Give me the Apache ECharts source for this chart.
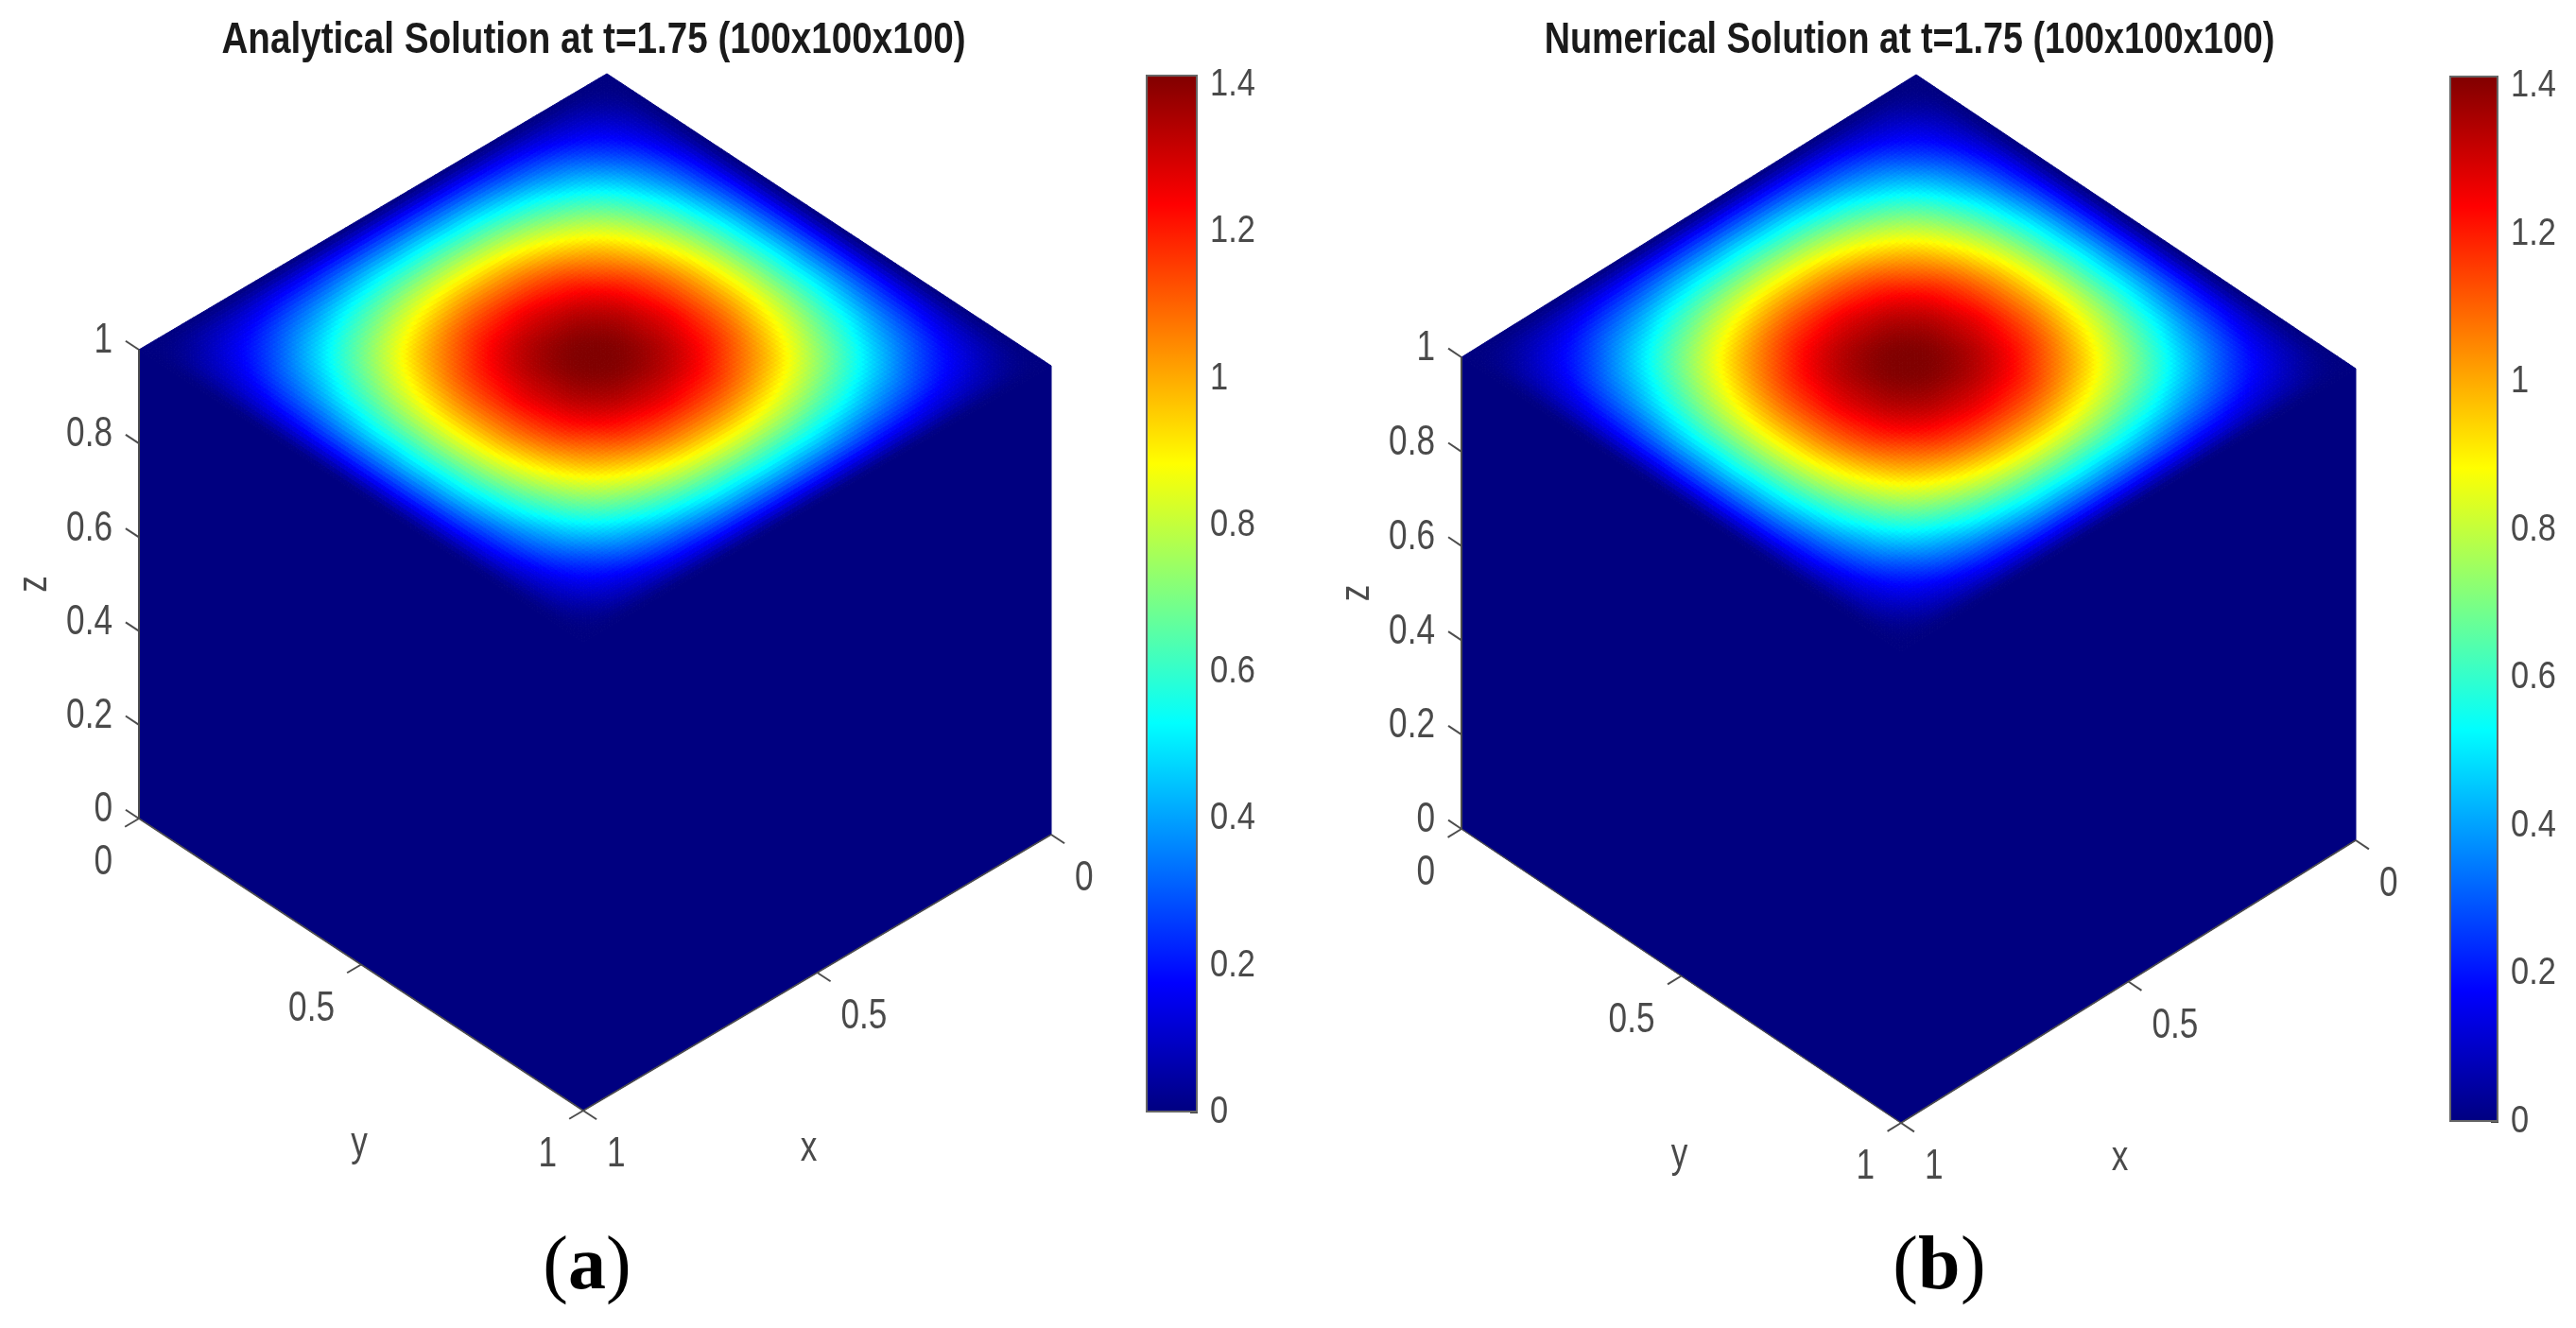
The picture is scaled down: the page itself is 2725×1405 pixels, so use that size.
<!DOCTYPE html>
<html><head><meta charset="utf-8">
<style>html,body{margin:0;padding:0;background:#fff}#c{width:2725px;height:1405px}</style>
<script src="https://cdn.jsdelivr.net/npm/echarts@6/dist/echarts.min.js"></script>
</head><body><div id="c"></div>
<script>
// ---- values ----
const panelTitles = ['Analytical Solution at t=1.75 (100x100x100)', 'Numerical Solution at t=1.75 (100x100x100)'];
const panelLetters = ['a', 'b'];
const zTicks = [0, 0.2, 0.4, 0.6, 0.8, 1];
const xyTicks = [0, 0.5, 1];
const colorTicks = [0, 0.2, 0.4, 0.6, 0.8, 1, 1.2, 1.4];
const colorMax = 1.414;
const sideValue = 0;
// top-face values at z=1, on 21x21 nodes
const analyticalTop = [
[0,0,0,0,0,0,0,0,0,0,0,0,0,0,0,0,0,0,0,0,0],
[0,.03,.07,.10,.13,.16,.18,.20,.21,.22,.22,.22,.21,.20,.18,.16,.13,.10,.07,.03,0],
[0,.07,.14,.20,.26,.31,.35,.39,.42,.43,.44,.43,.42,.39,.35,.31,.26,.20,.14,.07,0],
[0,.10,.20,.29,.38,.45,.52,.57,.61,.63,.64,.63,.61,.57,.52,.45,.38,.29,.20,.10,0],
[0,.13,.26,.38,.49,.59,.67,.74,.79,.82,.83,.82,.79,.74,.67,.59,.49,.38,.26,.13,0],
[0,.16,.31,.45,.59,.71,.81,.89,.95,.99,1.00,.99,.95,.89,.81,.71,.59,.45,.31,.16,0],
[0,.18,.35,.52,.67,.81,.93,1.02,1.09,1.13,1.14,1.13,1.09,1.02,.93,.81,.67,.52,.35,.18,0],
[0,.20,.39,.57,.74,.89,1.02,1.12,1.20,1.24,1.26,1.24,1.20,1.12,1.02,.89,.74,.57,.39,.20,0],
[0,.21,.42,.61,.79,.95,1.09,1.20,1.28,1.33,1.34,1.33,1.28,1.20,1.09,.95,.79,.61,.42,.21,0],
[0,.22,.43,.63,.82,.99,1.13,1.24,1.33,1.38,1.40,1.38,1.33,1.24,1.13,.99,.82,.63,.43,.22,0],
[0,.22,.44,.64,.83,1.00,1.14,1.26,1.34,1.40,1.414,1.40,1.34,1.26,1.14,1.00,.83,.64,.44,.22,0],
[0,.22,.43,.63,.82,.99,1.13,1.24,1.33,1.38,1.40,1.38,1.33,1.24,1.13,.99,.82,.63,.43,.22,0],
[0,.21,.42,.61,.79,.95,1.09,1.20,1.28,1.33,1.34,1.33,1.28,1.20,1.09,.95,.79,.61,.42,.21,0],
[0,.20,.39,.57,.74,.89,1.02,1.12,1.20,1.24,1.26,1.24,1.20,1.12,1.02,.89,.74,.57,.39,.20,0],
[0,.18,.35,.52,.67,.81,.93,1.02,1.09,1.13,1.14,1.13,1.09,1.02,.93,.81,.67,.52,.35,.18,0],
[0,.16,.31,.45,.59,.71,.81,.89,.95,.99,1.00,.99,.95,.89,.81,.71,.59,.45,.31,.16,0],
[0,.13,.26,.38,.49,.59,.67,.74,.79,.82,.83,.82,.79,.74,.67,.59,.49,.38,.26,.13,0],
[0,.10,.20,.29,.38,.45,.52,.57,.61,.63,.64,.63,.61,.57,.52,.45,.38,.29,.20,.10,0],
[0,.07,.14,.20,.26,.31,.35,.39,.42,.43,.44,.43,.42,.39,.35,.31,.26,.20,.14,.07,0],
[0,.03,.07,.10,.13,.16,.18,.20,.21,.22,.22,.22,.21,.20,.18,.16,.13,.10,.07,.03,0],
[0,0,0,0,0,0,0,0,0,0,0,0,0,0,0,0,0,0,0,0,0]
];
// the numerical panel reads the same as the analytical one
const numericalTop = analyticalTop;
const panelFields = [analyticalTop, numericalTop];

// ---- layout (view of the cube in page pixels) ----
const views = [
  {back:[642,78], ex:[-495,292], ey:[470,309], ez:[0,-496], bar:[1212,79,55,1098], titleX:628, titleS:.84, capX:601, capW:40, capY:1342},
  {back:[2027,79], ex:[-481,299], ey:[465,311], ez:[0,-499], bar:[2591,80,52,1107], titleX:2020, titleS:.82, capX:2029, capW:45, capY:1342}
];
const SUB = 6;
const FONT = "'Liberation Sans',sans-serif";
const SERIF = "'Liberation Serif',serif";
const TXT = '#4a4a4a', LINE = '#4d4d4d';
const NARROW = .8;

function clamp01(v){return Math.max(0,Math.min(1,v));}
function jet(value){
  const t = clamp01(value/colorMax);
  const c = k => Math.round(255*clamp01(1.5-Math.abs(4*t-k)));
  return 'rgb('+c(3)+','+c(2)+','+c(1)+')';
}
function box(v){
  const left = v.back[0]+v.ex[0], right = v.back[0]+v.ey[0];
  const top = v.back[1], bottom = v.back[1]+v.ex[1]+v.ey[1]-v.ez[1];
  return {left, top, w:right-left, h:bottom-top, bottom};
}
function project(api, v, x, y, z, dx, dy){
  const b = box(v);
  const px = v.back[0]+x*v.ex[0]+y*v.ey[0]+(z-1)*v.ez[0]+(dx||0);
  const py = v.back[1]+x*v.ex[1]+y*v.ey[1]+(z-1)*v.ez[1]+(dy||0);
  return api.coord([(px-b.left)/b.w, (b.bottom-py)/b.h]);
}
// colour shading inside a table cell, like a surface with interpolated shading
function cr(a,b,c,d,t){return b+0.5*t*(c-a+t*(2*a-5*b+4*c-d+t*(3*b-a-3*c+d)));}
function shade(field,u,w){
  const n=field.length-1;
  const i=Math.min(n-1,Math.floor(u)), j=Math.min(n-1,Math.floor(w));
  const g=(a,b)=>field[Math.max(0,Math.min(n,a))][Math.max(0,Math.min(n,b))];
  const row=r=>cr(g(r,j-1),g(r,j),g(r,j+1),g(r,j+2),w-j);
  return Math.max(0,cr(row(i-1),row(i),row(i+1),row(i+2),u-i));
}
function fieldSeries(p){
  const field=panelFields[p], v=views[p], n=field.length-1, data=[];
  for(let i=0;i<n;i++)for(let j=0;j<n;j++)data.push([i,j,field[i][j]]);
  return {type:'custom',coordinateSystem:'cartesian2d',xAxisIndex:p*2,yAxisIndex:p*2,silent:true,animation:false,z:2,
    data, renderItem(params,api){
      const i=api.value(0), j=api.value(1), children=[];
      for(let a=0;a<SUB;a++)for(let b=0;b<SUB;b++){
        const col=jet(shade(field,i+(a+.5)/SUB,j+(b+.5)/SUB));
        const P=(q,r)=>project(api,v,(i+q/SUB)/n,(j+r/SUB)/n,1);
        children.push({type:'polygon',shape:{points:[P(a,b),P(a+1,b),P(a+1,b+1),P(a,b+1)]},
          style:{fill:col,stroke:col,lineWidth:1}});
      }
      return {type:'group',children};
    }};
}
function frameSeries(p){
  const v=views[p], items=[];
  items.push({k:'face',pts:[[1,0,1],[1,1,1],[1,1,0],[1,0,0]]});
  items.push({k:'face',pts:[[1,1,1],[0,1,1],[0,1,0],[1,1,0]]});
  items.push({k:'line',a:[1,0,0],b:[1,0,1],w:2});
  items.push({k:'line',a:[1,0,0],b:[1,1,0],w:1.5});
  items.push({k:'line',a:[0,1,0],b:[1,1,0],w:1.5});
  zTicks.forEach(t=>{
    items.push({k:'line',a:[1,0,t],b:[1,-.03,t],w:2});
    items.push({k:'text',at:[1,0,t],d:[-28,-9],s:String(t),al:'right'});
  });
  xyTicks.forEach(t=>{
    items.push({k:'line',a:[1,t,0],b:[1.03,t,0],w:2});
    items.push({k:'text',at:[1,t,0],d:[-28,47],s:String(t),al:'right'});
    items.push({k:'line',a:[t,1,0],b:[t,1.03,0],w:2});
    items.push({k:'text',at:[t,1,0],d:[25,47],s:String(t),al:'left'});
  });
  items.push({k:'text',at:[1,0,.5],d:[-110,0],s:'z',al:'center',rot:Math.PI/2});
  items.push({k:'text',at:[1,.5,0],d:[-2,190],s:'y',al:'center'});
  items.push({k:'text',at:[.5,1,0],d:[-9,187],s:'x',al:'center'});
  return {type:'custom',coordinateSystem:'cartesian2d',xAxisIndex:p*2,yAxisIndex:p*2,silent:true,animation:false,z:3,
    data:items.map((_,k)=>[k]), renderItem(params,api){
      const it=items[api.value(0)];
      const C=(q,d)=>project(api,v,q[0],q[1],q[2],d&&d[0],d&&d[1]);
      if(it.k==='face') return {type:'polygon',shape:{points:it.pts.map(q=>C(q))},
        style:{fill:jet(sideValue),stroke:jet(sideValue),lineWidth:1}};
      if(it.k==='line'){const a=C(it.a),b=C(it.b);
        return {type:'line',shape:{x1:a[0],y1:a[1],x2:b[0],y2:b[1]},style:{stroke:LINE,lineWidth:it.w},z2:5};}
      const c=C(it.at,it.d);
      return {type:'text',x:c[0],y:c[1],rotation:it.rot||0,scaleX:NARROW,z2:5,
        style:{text:it.s,textAlign:it.al,textVerticalAlign:'middle',fontFamily:FONT,fontSize:44,fill:TXT}};
    }};
}
function colorLabelSeries(p){
  const v=views[p];
  return {type:'custom',coordinateSystem:'cartesian2d',xAxisIndex:p*2+1,yAxisIndex:p*2+1,silent:true,animation:false,z:4,
    data:colorTicks.map(t=>[0,t]), renderItem(params,api){
      const t=api.value(1), c=api.coord([0,t]);
      return {type:'text',x:c[0]+v.bar[2]/2+13,y:c[1],scaleX:.86,
        style:{text:String(t),textAlign:'left',textVerticalAlign:'middle',fontFamily:FONT,fontSize:40,fill:TXT}};
    }};
}
const jetStops=[[0,'#000080'],[.125,'#0000ff'],[.375,'#00ffff'],[.625,'#ffff00'],[.875,'#ff0000'],[1,'#800000']]
  .map(s=>({offset:s[0],color:s[1]}));

const grid=[],xAxis=[],yAxis=[],series=[],graphic=[];
views.forEach((v,p)=>{
  const b=box(v);
  grid.push({left:b.left,top:b.top,width:b.w,height:b.h,show:false});
  xAxis.push({type:'value',gridIndex:p*2,min:0,max:1,show:false});
  yAxis.push({type:'value',gridIndex:p*2,min:0,max:1,show:false});
  grid.push({left:v.bar[0],top:v.bar[1],width:v.bar[2],height:v.bar[3],show:false});
  xAxis.push({type:'category',gridIndex:p*2+1,data:['colour'],show:false});
  yAxis.push({type:'value',gridIndex:p*2+1,position:'right',min:0,max:colorMax,splitLine:{show:false},
    axisLine:{show:false},
    axisTick:{show:true,inside:true,length:8,lineStyle:{color:'#444',width:2},customValues:colorTicks},
    axisLabel:{show:false}});
  series.push(fieldSeries(p));
  series.push(frameSeries(p));
  series.push({type:'bar',xAxisIndex:p*2+1,yAxisIndex:p*2+1,data:[colorMax],barWidth:'100%',silent:true,animation:false,
    itemStyle:{color:{type:'linear',x:0,y:1,x2:0,y2:0,colorStops:jetStops},borderColor:'#666',borderWidth:2}});
  series.push(colorLabelSeries(p));
  graphic.push({type:'text',x:v.titleX,y:43,scaleX:v.titleS,silent:true,
    style:{text:panelTitles[p],textAlign:'center',textVerticalAlign:'middle',fontFamily:FONT,fontWeight:'bold',fontSize:46,fill:'#1a1a1a'}});
  graphic.push({type:'text',x:v.capX,y:v.capY,silent:true,
    style:{text:'(',textAlign:'right',textVerticalAlign:'middle',fontFamily:SERIF,fontSize:80,fill:'#000'}});
  graphic.push({type:'text',x:v.capX,y:v.capY,silent:true,
    style:{text:panelLetters[p],textAlign:'left',textVerticalAlign:'middle',fontFamily:SERIF,fontWeight:'bold',fontSize:80,fill:'#000'}});
  graphic.push({type:'text',x:v.capX+v.capW,y:v.capY,silent:true,
    style:{text:')',textAlign:'left',textVerticalAlign:'middle',fontFamily:SERIF,fontSize:80,fill:'#000'}});
});
const chart=echarts.init(document.getElementById('c'),null,{renderer:'canvas',width:2725,height:1405});
chart.setOption({backgroundColor:'#fff',animation:false,graphic,grid,xAxis,yAxis,series});
</script></body></html>
